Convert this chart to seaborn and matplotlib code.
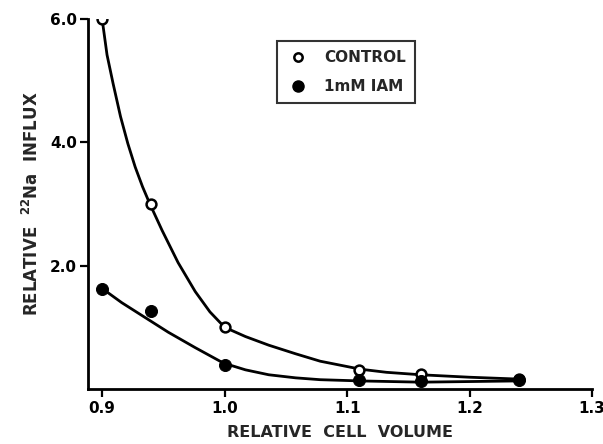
import matplotlib
matplotlib.use("Agg")
import matplotlib.pyplot as plt
import seaborn as sns
import pandas as pd
from matplotlib.lines import Line2D

# Measured points
volume = [0.90, 0.94, 1.00, 1.11, 1.16, 1.24]
control = [6.00, 3.00, 1.00, 0.31, 0.25, 0.16]
iam = [1.62, 1.26, 0.39, 0.15, 0.13, 0.15]

# Fitted curves
ctrl_curve_x = [0.900, 0.904, 0.909, 0.915, 0.921, 0.927, 0.933, 0.939, 0.949, 0.962,
                0.976, 0.988, 1.000, 1.017, 1.036, 1.058, 1.078, 1.111, 1.132, 1.160,
                1.200, 1.240]
ctrl_curve_y = [6.00, 5.42, 4.95, 4.42, 3.98, 3.60, 3.28, 3.00, 2.57, 2.05,
                1.58, 1.25, 1.00, 0.85, 0.71, 0.57, 0.45, 0.32, 0.27, 0.23,
                0.19, 0.16]
iam_curve_x = [0.900, 0.916, 0.935, 0.954, 0.976, 0.999, 1.017, 1.036, 1.058, 1.078,
               1.111, 1.160, 1.200, 1.240]
iam_curve_y = [1.63, 1.40, 1.16, 0.92, 0.67, 0.42, 0.31, 0.23, 0.18, 0.15,
               0.13, 0.11, 0.12, 0.13]

xticks = [0.9, 1.0, 1.1, 1.2, 1.3]
yticks = [2.0, 4.0, 6.0]

sns.set_style("ticks")
plt.rcParams['font.family'] = ['DejaVu Sans']

fig = plt.figure(figsize=(6.03, 4.44), dpi=100)
ax = fig.add_axes([0.146, 0.124, 0.836, 0.833])

pts = pd.DataFrame({"x": volume * 2, "y": control + iam,
                    "g": ["CONTROL"] * len(volume) + ["1mM IAM"] * len(volume)})
cur = pd.DataFrame({"x": ctrl_curve_x + iam_curve_x, "y": ctrl_curve_y + iam_curve_y,
                    "g": ["c"] * len(ctrl_curve_x) + ["i"] * len(iam_curve_x)})

sns.lineplot(data=cur, x="x", y="y", hue="g", palette={"c": "black", "i": "black"},
             sort=False, estimator=None, linewidth=2.0, legend=False, ax=ax, zorder=2)
sns.scatterplot(data=pts[pts.g == "CONTROL"], x="x", y="y", s=50, facecolor="white",
                edgecolor="black", linewidth=1.8, legend=False, ax=ax, zorder=3)
sns.scatterplot(data=pts[pts.g == "1mM IAM"], x="x", y="y", s=75, color="black",
                edgecolor="black", legend=False, ax=ax, zorder=3)

ax.set_xlim(0.8885, 1.3)
ax.set_ylim(0, 6.0)
ax.set_xticks(xticks)
ax.set_xticklabels(["0.9", "1.0", "1.1", "1.2", "1.3"])
ax.set_yticks(yticks)
ax.set_yticklabels(["2.0", "4.0", "6.0"])
for s in ["top", "right"]:
    ax.spines[s].set_visible(False)
for s in ["left", "bottom"]:
    ax.spines[s].set_linewidth(2.0)
    ax.spines[s].set_color("black")
ax.tick_params(axis="both", direction="out", length=6, width=1.6, colors="black",
               labelsize=11)
for lab in ax.get_xticklabels() + ax.get_yticklabels():
    lab.set_fontweight("bold")
ax.tick_params(axis="x", pad=3)
ax.tick_params(axis="y", pad=2)

ax.set_xlabel("RELATIVE  CELL  VOLUME", fontsize=11.5, fontweight="bold", labelpad=6)
ax.set_ylabel(r"RELATIVE  $\mathbf{^{22}Na}$  INFLUX", fontsize=12, fontweight="bold", labelpad=6)

handles = [Line2D([], [], marker="o", linestyle="none", markerfacecolor="white",
                  markeredgecolor="black", markeredgewidth=1.8, markersize=6),
           Line2D([], [], marker="o", linestyle="none", color="black", markersize=8)]
leg = ax.legend(handles, ["CONTROL", "1mM IAM"], loc="upper left",
                bbox_to_anchor=(0.375, 0.94), borderaxespad=0, frameon=True, fancybox=False,
                edgecolor="black", prop={"weight": "bold", "size": 11},
                handletextpad=1.0, borderpad=0.6, labelspacing=0.9, handlelength=1.5)
leg.get_frame().set_linewidth(1.5)

fig.savefig("out.png", dpi=100)
